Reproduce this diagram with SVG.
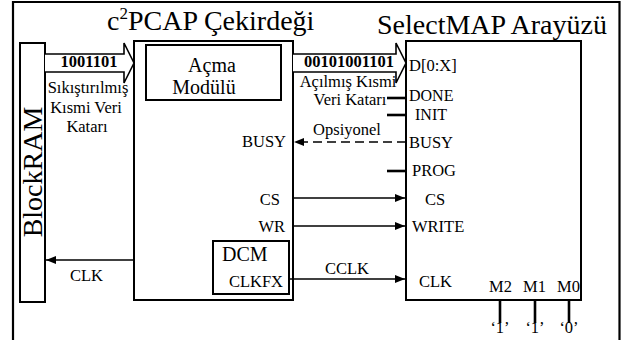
<svg xmlns="http://www.w3.org/2000/svg" width="624" height="340" viewBox="0 0 624 340" font-family="'Liberation Serif', 'Times New Roman', serif" font-size="16.5">
<defs>
<style>
.box{fill:#fff;stroke:#000;stroke-width:2}
.ln{fill:none;stroke:#000;stroke-width:1.6}
.stub{fill:none;stroke:#000;stroke-width:2.6}
.big{fill:#fff;stroke:#000;stroke-width:1.6;stroke-linejoin:miter}
</style>
<marker id="ah" viewBox="0 0 10 8" refX="10" refY="4" markerWidth="10" markerHeight="8" markerUnits="userSpaceOnUse" orient="auto">
<path d="M0,0 L10,4 L0,8 Z" fill="#000"/>
</marker>
</defs>
<rect width="624" height="340" fill="#fff"/>
<path d="M13,342 V2 H619.5 V342" fill="none" stroke="#000" stroke-width="2.2"/>

<g id="blockram">
<rect class="box" x="20" y="43" width="25" height="259"/>
<text transform="translate(42,172) rotate(-90)" text-anchor="middle" font-size="28">BlockRAM</text>
</g>

<g id="core">
<text x="107" y="30" font-size="28">c<tspan dy="-11" font-size="17">2</tspan><tspan dy="11">PCAP Çekirdeği</tspan></text>
<rect class="box" x="134" y="41" width="159" height="259"/>
<text x="286" y="147" text-anchor="end">BUSY</text>
<text x="280" y="205" text-anchor="end">CS</text>
<text x="285" y="232" text-anchor="end">WR</text>
</g>

<g id="acma">
<rect class="box" x="146" y="45" width="135" height="55"/>
<text x="212" y="72" text-anchor="middle" font-size="20">Açma</text>
<text x="204" y="94" text-anchor="middle" font-size="20">Modülü</text>
</g>

<g id="dcm">
<rect class="box" x="213" y="241" width="76" height="53"/>
<text x="222" y="261" font-size="20">DCM</text>
<text x="283" y="287" text-anchor="end">CLKFX</text>
</g>

<g id="selectmap">
<text x="377" y="34" font-size="28">SelectMAP Arayüzü</text>
<rect class="box" x="406" y="41" width="175" height="259"/>
<text x="409" y="71">D[0:X]</text>
<text x="409" y="101" font-size="16">DONE</text>
<text x="415" y="120" font-size="16">INIT</text>
<text x="409" y="148">BUSY</text>
<text x="412" y="176">PROG</text>
<text x="425" y="205">CS</text>
<text x="412" y="232">WRITE</text>
<text x="419" y="287">CLK</text>
<text x="489" y="292">M2</text>
<text x="523" y="292">M1</text>
<text x="557" y="292">M0</text>
<line x1="581" y1="41" x2="581" y2="300" stroke="#000" stroke-width="2"/>
</g>

<g id="connectors">
<path class="big" d="M45,54 H124 V43 L134,63 L124,83 V72 H45"/>
<text x="89" y="67" text-anchor="middle" font-weight="bold">1001101</text>
<text x="88" y="93" text-anchor="middle">Sıkıştırılmış</text>
<text x="86" y="113" text-anchor="middle">Kısmi Veri</text>
<text x="87" y="132" text-anchor="middle">Katarı</text>

<path class="big" d="M293,54 H396 V43 L406,63 L396,83 V72 H293"/>
<text x="349" y="67" text-anchor="middle" font-weight="bold">00101001101</text>
<text x="348" y="87" text-anchor="middle">Açılmış Kısmi</text>
<text x="350" y="105" text-anchor="middle">Veri Katarı</text>

<line class="stub" x1="387" y1="98" x2="406" y2="98"/>
<line class="stub" x1="387" y1="115" x2="406" y2="115"/>
<line class="stub" x1="387" y1="171" x2="406" y2="171"/>

<line class="ln" x1="406" y1="142" x2="294" y2="142" stroke-dasharray="9,5" marker-end="url(#ah)"/>
<text x="347" y="135" text-anchor="middle">Opsiyonel</text>

<line class="ln" x1="293" y1="198" x2="405" y2="198" marker-end="url(#ah)"/>
<line class="ln" x1="293" y1="226" x2="405" y2="226" marker-end="url(#ah)"/>
<line class="ln" x1="289" y1="279" x2="405" y2="279" marker-end="url(#ah)"/>
<text x="325" y="274">CCLK</text>

<line class="ln" x1="134" y1="260" x2="46" y2="260" marker-end="url(#ah)"/>
<text x="70" y="281">CLK</text>

<line class="stub" x1="500" y1="300" x2="500" y2="323"/>
<line class="stub" x1="535" y1="300" x2="535" y2="323"/>
<line class="stub" x1="569" y1="300" x2="569" y2="323"/>
<text x="500" y="333" text-anchor="middle">‘1’</text>
<text x="535" y="333" text-anchor="middle">‘1’</text>
<text x="569" y="333" text-anchor="middle">‘0’</text>
</g>
</svg>
